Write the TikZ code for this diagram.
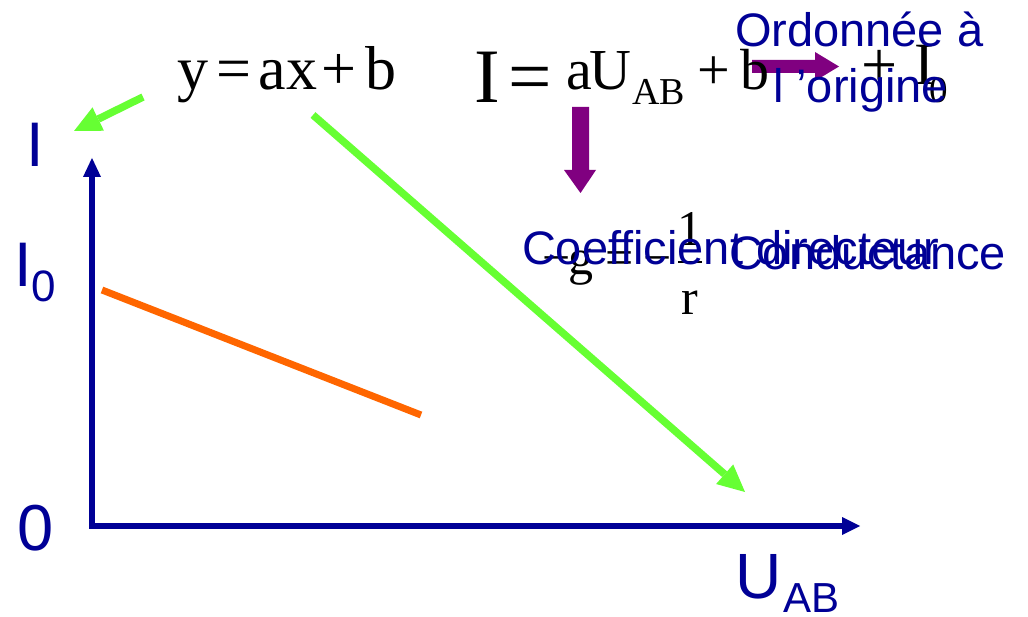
\documentclass[tikz,border=0pt]{standalone}
\usepackage{fontspec}
\setmainfont{Liberation Serif}
\newfontfamily\arialf{Liberation Sans}
\usetikzlibrary{arrows.meta}
\definecolor{axblue}{RGB}{0,0,150}
\definecolor{lgreen}{RGB}{102,255,51}
\definecolor{orng}{RGB}{255,102,0}
\definecolor{purp}{RGB}{128,0,128}
\begin{document}
\begin{tikzpicture}[x=1pt,y=-1pt,
 txt/.style={inner sep=0pt,outer sep=0pt,anchor=base west},
 bl/.style={txt,text=axblue,font=\arialf\fontsize{#1}{#1}\selectfont},
 tm/.style={txt,text=black,font=\fontsize{#1}{#1}\selectfont},
 axis/.style={draw=axblue,line width=6.5pt,line join=miter,
   {Triangle[length=19pt,width=18pt,line width=0pt]}-{Triangle[length=18pt,width=18pt,line width=0pt]}},
 garrow/.style={draw=lgreen,line width=7.5pt,-{Triangle[length=27pt,width=26pt,line width=0pt]}},
 purparrow/.style={fill=purp,draw=none},
 ]
\useasboundingbox (0,0) rectangle (1028,617);
% axes
\coordinate (ytip) at (92,158);
\coordinate (orig) at (92,526);
\coordinate (xtip) at (860,526);
\draw[axis] (ytip) -- (orig) -- (xtip);
% orange line
\coordinate (os) at (102,290);
\coordinate (oe) at (421,415);
\draw[orng,line width=7pt] (os) -- (oe);
% green arrows
\coordinate (g1s) at (143,97);
\coordinate (g1e) at (74,131);
\draw[garrow] (g1s) -- (g1e);
\coordinate (g2s) at (313,115);
\coordinate (g2e) at (745,492);
\draw[garrow] (g2s) -- (g2e);
% purple block arrows
\fill[purparrow] (572,107) -- (589,107) -- (589,170) -- (596,170) -- (580.5,193) -- (564,170) -- (572,170) -- cycle;
\fill[purparrow] (752,60) -- (815,60) -- (815,52) -- (839,66.5) -- (815,81) -- (815,73) -- (752,73) -- cycle;
% black formulas
\node[tm=62] (eqy) at (177,90) {y\kern8pt=\kern8pt ax\kern4pt+\kern9pt b};
\node[tm=77] (bigI) at (474,103) {I\kern9pt=};
\node[tm=58] (aU) at (566,90) {a\kern-2pt U};
\node[tm=38] (ABs) at (632,105) {AB};
\node[tm=58] (plus1) at (697,90) {+};
\node[tm=58] (bb) at (740,90) {b};
\node[tm=64] (plus2) at (861,87) {+};
\node[tm=60] (I2) at (914,85) {I};
\node[tm=37] (I2s) at (929,103) {0};
\node[tm=50] (m1) at (542,275) {−};
\node[tm=50] (gg) at (568,275) {g};
\node[tm=50] (eqg) at (605,275) {=};
\node[tm=50] (m2) at (643,275) {−};
\node[tm=50] (one) at (677,246) {1};
\node[tm=50] (rr) at (681,315) {r};
\coordinate (fb1) at (678,262);
\coordinate (fb2) at (702,262);
\draw[line width=2.4pt] (fb1) -- (fb2);
% blue labels
\node[bl=63] (Ilab) at (27,167) {I};
\node[bl=63] (I0) at (14,287) {I};
\node[bl=44] (I0s) at (31,302) {0};
\node[bl=65] (zero) at (17,550) {0};
\node[bl=64] (U) at (735,598) {U};
\node[bl=42] (Us) at (783,612) {AB};
\node[bl=47] (ord1) at (735,47) {Ordonnée à};
\node[bl=47] (ord2) at (773,103) {l ’origine};
\node[bl=47] (coef) at (522,265) {Coefficient directeur};
\node[bl=47] (cond) at (729,270) {Conductance};
\end{tikzpicture}
\end{document}
